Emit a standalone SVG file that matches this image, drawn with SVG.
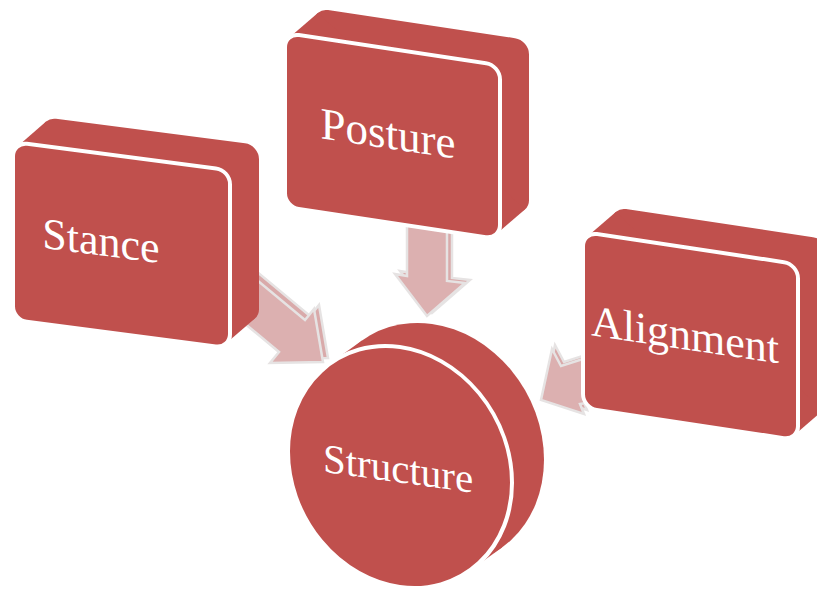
<svg xmlns="http://www.w3.org/2000/svg" width="817" height="590" viewBox="0 0 817 590">
<style>
.shape{fill:#c0504d}
.face{fill:#c0504d;stroke:#ffffff;stroke-width:4}
.lbl{font-family:"Liberation Serif","Times New Roman",serif;fill:#ffffff;text-anchor:middle}
.arrow{fill:#dcb0b0;stroke:#e6e3e3;stroke-width:2.5;stroke-linejoin:miter}
.arrowback{fill:#d9aaaa;stroke:#e6e3e3;stroke-width:2.5}
</style>
<rect width="817" height="590" fill="#ffffff"/>
<g id="connectors">
  <g id="arrow-stance">
    <polygon class="arrowback" transform="translate(5,-4)" points="240,266 305,320 314,309 323,362 270,363 279,352 214,298"/>
    <polygon class="arrow" points="240,266 305,320 314,309 323,362 270,363 279,352 214,298"/>
  </g>
  <g id="arrow-posture">
    <polygon class="arrowback" transform="translate(5,-3)" points="407,225 407,276 395,274 427,316 465,283 447,281 447,230"/>
    <polygon class="arrow" points="407,225 407,276 395,274 427,316 465,283 447,281 447,230"/>
  </g>
  <g id="arrow-alignment">
    <polygon class="arrowback" transform="translate(3,-4)" points="605,352 561,366 552,349 541,400 584,414 580,404 605,400"/>
    <polygon class="arrow" points="605,352 561,366 552,349 541,400 584,414 580,404 605,400"/>
  </g>
</g>
<g id="node-stance" transform="matrix(1,0.13,0,1,13,142)">
  <rect class="shape" x="29" y="-28.8" width="217" height="178" rx="14"/>
  <polygon class="shape" points="4.1,4.1 33.1,-24.7 241.9,145.1 212.9,173.9"/>
  <rect class="face" x="0" y="0" width="217" height="178" rx="14"/>
  <text class="lbl" x="88" y="102" font-size="44">Stance</text>
</g>
<g id="node-posture" transform="matrix(1,0.15,0,1,285,33)">
  <rect class="shape" x="29" y="-29.35" width="215" height="174" rx="14"/>
  <polygon class="shape" points="4.1,4.1 33.1,-25.2 239.9,140.5 210.9,169.9"/>
  <rect class="face" x="0" y="0" width="215" height="174" rx="14"/>
  <text class="lbl" x="103" y="100" font-size="45">Posture</text>
</g>
<g id="node-alignment" transform="matrix(1,0.15,0,1,583,232)">
  <rect class="shape" x="29" y="-29.35" width="215" height="176" rx="14"/>
  <polygon class="shape" points="4.1,4.1 33.1,-25.2 239.9,142.5 210.9,171.9"/>
  <rect class="face" x="0" y="0" width="215" height="176" rx="14"/>
  <text class="lbl" x="102" y="102" font-size="44">Alignment</text>
</g>
<g id="node-structure" transform="matrix(1,0.14,0,1,400,467)">
  <ellipse class="shape" cx="32" cy="-27.5" rx="112" ry="120"/>
  <polygon class="shape" points="-70,-93.7 -38,-121.2 102,66.2 70,93.7"/>
  <ellipse class="face" cx="0" cy="0" rx="112" ry="120"/>
  <text class="lbl" x="-2" y="15.5" font-size="41">Structure</text>
</g>
</svg>
